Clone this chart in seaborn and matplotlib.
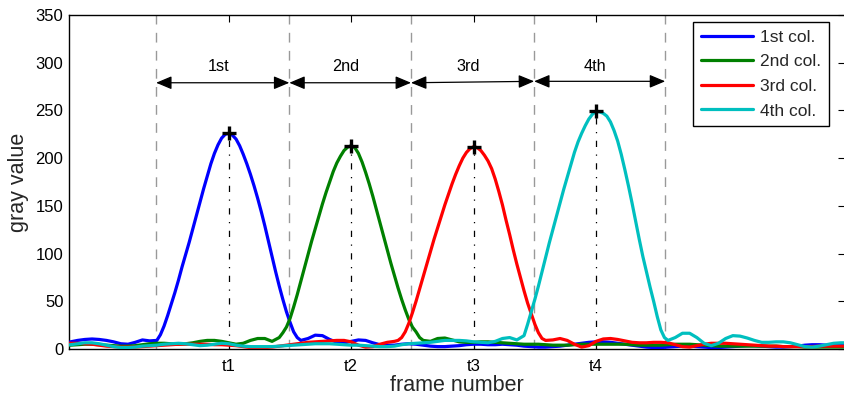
import matplotlib
matplotlib.use("Agg")
import matplotlib.pyplot as plt
import numpy as np
import pandas as pd
import seaborn as sns
from matplotlib.patches import FancyArrowPatch

# ---- data -------------------------------------------------------------
frames = list(range(0, 110))

col1 = [6, 7.5, 9, 10, 10.5, 10, 9, 7.5, 5.5, 5,
        7, 9.5, 8.5, 9, 24, 47, 72, 99, 126, 154,
        181, 205, 221, 226, 220, 204, 183, 158, 129, 97,
        66, 39, 18, 9, 11, 14.5, 14, 10, 7, 6.5,
        8, 9.5, 9, 6.5, 4.5, 4, 4, 5, 5.5, 5,
        4, 3, 2.5, 2.5, 3, 3.5, 4.5, 5, 5, 4.5,
        4.5, 5, 4.5, 4, 3, 2.5, 2, 2, 2.5, 3,
        4, 5, 6, 7, 7.5, 7.5, 7, 6, 5, 4,
        3, 2, 1.5, 1.5, 2, 2.5, 3, 3, 2.5, 2,
        1.5, 1.5, 2, 2.5, 3, 3.5, 3.5, 3, 2.5, 2,
        2, 2.5, 3, 4, 4.5, 4.5, 4, 3.5, 3.5, 3.5]

col2 = [3.5, 4, 4.5, 5, 5, 4.5, 4, 3.5, 3, 3,
        3.5, 4.5, 5.5, 6, 6, 5.5, 5, 5.5, 6.5, 8,
        9, 9, 8, 6.5, 5, 6, 9, 11, 11, 8,
        12, 23, 44, 71, 99, 126, 152, 175, 195, 208,
        213, 205, 185, 160, 132, 104, 77, 52, 31, 18,
        9, 8, 11, 11.5, 9.5, 7.5, 7, 7, 7.5, 7.5,
        7, 6.5, 6, 5.5, 5, 5, 5, 4.5, 4, 4,
        4, 4.5, 5, 5, 5, 5, 5, 5, 5, 4.5,
        4, 4, 4, 4, 4.5, 5, 5, 5, 4.5, 4,
        3.5, 3, 3, 3, 3, 3, 3, 3, 3, 3,
        2.5, 2.5, 2.5, 2, 2, 2, 2, 2, 2, 2]

col3 = [6, 6, 6, 5.5, 5, 4, 3, 2.5, 2, 2,
        2, 2.5, 3, 3.5, 4, 4.5, 5, 5, 5, 5,
        5, 4.5, 4.5, 4, 3.5, 2.5, 1.5, 1.5, 1.5, 2,
        3, 4, 5, 6, 7, 7.5, 8, 8.5, 9, 9,
        7.5, 4, 2, 2.5, 5, 7, 8, 12, 27, 50,
        76, 102, 127, 151, 173, 192, 206, 212, 208, 197,
        178, 151, 120, 89, 61, 37, 17, 9, 9.5, 11,
        9, 5, 2, 3.5, 8, 10.5, 11, 10, 8.5, 7,
        6.5, 6.5, 7, 7, 6.5, 4.5, 2.5, 2, 3.5, 5,
        6, 6, 6, 5.5, 5, 4.5, 4, 3.5, 3, 3,
        2.5, 2.5, 2.5, 2.5, 2.5, 3, 3, 3, 3, 3]

col4 = [4, 4.5, 5.5, 6.5, 6.5, 5.5, 4, 2.5, 1.5, 1.5,
        2, 3, 3.5, 4, 5, 5.5, 6, 5.5, 4.5, 3.5,
        4, 5, 6, 5.5, 4, 3, 2.5, 2.5, 2.5, 2.5,
        3, 3.5, 4, 4.5, 5, 5.5, 5.5, 5.5, 5, 4.5,
        4, 4, 3.5, 3, 2.5, 2.5, 3, 4.5, 5.5, 6,
        6.5, 7, 8, 9, 9, 9, 8.5, 7.5, 7, 6.5,
        8, 11, 12, 9.5, 14, 39, 66, 96, 125, 153,
        180, 206, 226, 241, 249, 247, 238, 218, 188, 153,
        115, 81, 50, 20, 9, 12, 16.5, 16.5, 12, 6,
        3.5, 6, 11, 14, 13.5, 11.5, 9, 7, 7, 7.5,
        7.5, 6.5, 4.5, 2.5, 2, 3, 4.5, 6, 6.5, 6.5]

# half-frame readings across each pulse (frames start+0, start+1, ...)
detail_start = [13.5, 30.5, 46.5, 64.5]
col1_detail = [15, 35, 59, 86, 112, 140, 168, 194, 214, 225,
               224, 213, 194, 171, 144, 113, 81, 52, 28, 12]
col2_detail = [17, 32, 57, 85, 113, 139, 164, 186, 202, 211.5,
               211, 196, 173, 146, 118, 90, 64, 41, 23, 12]
col3_detail = [9, 18, 38, 63, 89, 115, 139, 162, 183, 200,
               210, 211, 203, 189, 165, 135, 104, 75, 48, 26,
               11]
col4_detail = [26, 52, 81, 111, 139, 167, 193, 217, 234, 246,
               248.5, 244, 229, 204, 171, 134, 97, 65, 34, 12]

series_names = ["1st col.", "2nd col.", "3rd col.", "4th col."]
series_colors = ["#0000ff", "#008000", "#ff0000", "#00bfbf"]
peak_labels = ["t1", "t2", "t3", "t4"]
segment_bounds = [12.9, 31.4, 48.3, 65.4, 83.6]
segment_labels = ["1st", "2nd", "3rd", "4th"]
arrow_levels = [(279, 279), (279, 279), (279, 280.5), (280.5, 280.5)]

# ---- styling ------------------------------------------------------------
sns.set_theme(style="white")
plt.rcParams["font.family"] = ["Liberation Sans", "DejaVu Sans"]
plt.rcParams["axes.linewidth"] = 1.0

fig = plt.figure(figsize=(8.44, 3.97), dpi=100)
ax = fig.add_axes([69 / 844, 1 - 349 / 397, 776 / 844, 334 / 397])

series = [col1, col2, col3, col4]
details = [col1_detail, col2_detail, col3_detail, col4_detail]
parts = []
for name, s, d, x0 in zip(series_names, series, details, detail_start):
    dx = [x0 + k for k in range(len(d))]
    parts.append(pd.DataFrame({"frame": frames + dx,
                               "gray value": s + d,
                               "column": name}))
df = pd.concat(parts, ignore_index=True)

# segment boundaries
for b in segment_bounds:
    ax.axvline(b, color="#999999", lw=1.0, dashes=(7, 6), zorder=1)

sns.lineplot(data=df, x="frame", y="gray value", hue="column",
             hue_order=series_names,
             palette=dict(zip(series_names, series_colors)),
             linewidth=2.3, errorbar=None, ax=ax, zorder=3)

# peak of each column: dash-dot drop line and a cross marker
peak_x, peak_y = [], []
for name in series_names:
    sub = df[df["column"] == name]
    i = sub["gray value"].idxmax()
    peak_x.append(sub.loc[i, "frame"])
    peak_y.append(sub.loc[i, "gray value"])
for px_, py_ in zip(peak_x, peak_y):
    ln, = ax.plot([px_, px_], [0, py_], color="black", lw=0.9, zorder=2)
    ln.set_dashes((5, 6, 1, 6))
ax.plot(peak_x, peak_y, linestyle="none", marker="+", markersize=10,
        markeredgewidth=2.4, color="black", zorder=5)

# double-headed arrows spanning each segment
for k, lab in enumerate(segment_labels):
    x0, x1 = segment_bounds[k], segment_bounds[k + 1]
    y0, y1 = arrow_levels[k]
    arr = FancyArrowPatch((x0, y0), (x1, y1),
                          arrowstyle="<|-|>,head_length=0.95,head_width=0.4",
                          mutation_scale=10, color="black", lw=0.9,
                          shrinkA=0, shrinkB=0, zorder=4)
    ax.add_patch(arr)
    ax.text((x0 + x1) / 2 - 0.6, 296.5, lab, ha="center", va="center",
            fontsize=11.7, color="black")

ax.set_xlim(0.8, 0.8 + 776 / 7.2)
ax.set_ylim(0, 350)
ax.set_yticks(np.arange(0, 351, 50))
ax.set_xticks(peak_x)
ax.set_xticklabels(peak_labels)
ax.tick_params(axis="both", direction="in", top=True, right=True,
               length=5, width=0.8, labelsize=12, colors="black")
ax.tick_params(axis="x", pad=7)
ax.tick_params(axis="y", pad=4)
ax.set_xlabel("frame number", fontsize=15.5, labelpad=1)
ax.set_ylabel("gray value", fontsize=15.5, labelpad=5)
for sp in ax.spines.values():
    sp.set_color("black")
    sp.set_linewidth(1.0)

sns.move_legend(ax, "upper right", bbox_to_anchor=(760 / 776, 327 / 334),
                borderaxespad=0, title=None, frameon=True, fancybox=False,
                fontsize=12.5, handlelength=3.0, handletextpad=0.4,
                labelspacing=0.54, borderpad=0.45, framealpha=1)
leg = ax.get_legend()
leg.get_frame().set_edgecolor("black")
leg.get_frame().set_linewidth(1.0)
for h in leg.get_lines():
    h.set_linewidth(2.3)

fig.savefig("out.png", dpi=100)
